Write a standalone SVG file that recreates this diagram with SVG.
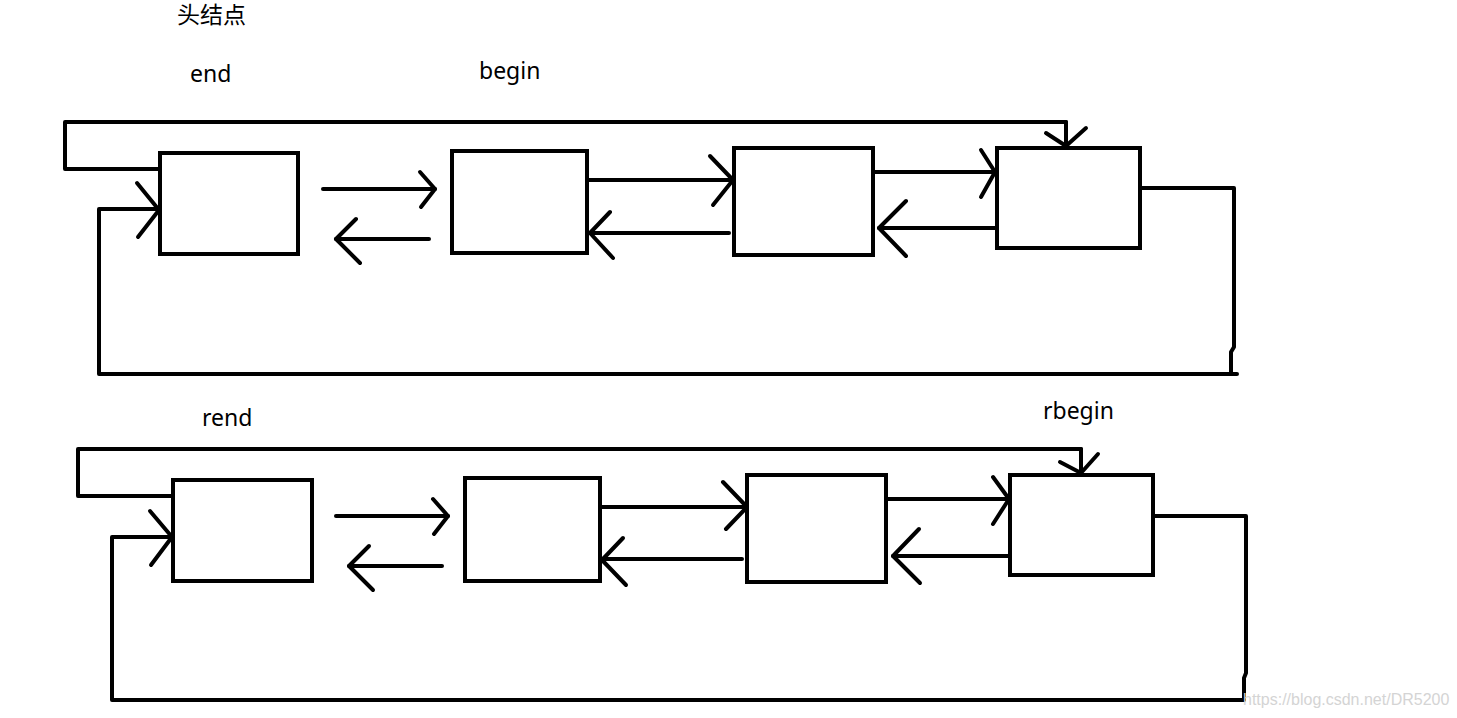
<svg xmlns="http://www.w3.org/2000/svg" width="1457" height="718" viewBox="0 0 1457 718">
<style>
.node{fill:#fff;stroke:#000;stroke-width:4}
.ln{fill:none;stroke:#000;stroke-width:4;stroke-linecap:round;stroke-linejoin:round}
.lbl{font-family:"Noto Sans","Noto Sans CJK SC",sans-serif;font-size:23px;fill:#000}
.wm{font-family:"Liberation Sans",Arial,sans-serif;font-size:16px;fill:#d4d4d4}
</style>
<rect width="1457" height="718" fill="#fff"/>
<g id="labels">
<text class="lbl" x="177" y="23" font-family="Noto Sans CJK SC,sans-serif" font-size="22">头结点</text>
<text class="lbl" x="190" y="82">end</text>
<text class="lbl" x="479" y="79">begin</text>
<text class="lbl" x="202" y="426">rend</text>
<text class="lbl" x="1043" y="419">rbegin</text>
</g>
<g id="connectors">
<!-- top list -->
<path class="ln" d="M1066,122 H65 V169 H160"/>
<polyline class="ln" points="1046,133 1066,146 1086,128"/>
<path class="ln" d="M1066,122 V144"/>
<path class="ln" d="M1140,188 H1234 V347 L1231,352 V374 H99 V209 H158"/>
<path class="ln" d="M1231,374 H1237"/>
<polyline class="ln" points="137,183 159,210 138,237"/>
<path class="ln" d="M323,189 H435"/>
<polyline class="ln" points="420,172 435,189 421,207"/>
<path class="ln" d="M429,239 H336"/>
<polyline class="ln" points="356,219 336,239 360,263"/>
<path class="ln" d="M587,180 H733"/>
<polyline class="ln" points="710,156 733,180 713,205"/>
<path class="ln" d="M729,233 H590"/>
<polyline class="ln" points="610,212 590,233 613,258"/>
<path class="ln" d="M873,172 H995"/>
<polyline class="ln" points="981,150 995,172 981,197"/>
<path class="ln" d="M997,228 H879"/>
<polyline class="ln" points="906,201 879,228 906,256"/>
<!-- bottom list -->
<path class="ln" d="M1081,449 H78 V496 H173"/>
<path class="ln" d="M1081,449 V471"/>
<polyline class="ln" points="1060,462 1081,473 1098,454"/>
<path class="ln" d="M1155,516 H1246 V673 L1244,678 V700 H112 V537 H171"/>
<polyline class="ln" points="150,511 172,537 151,565"/>
<path class="ln" d="M336,516 H448"/>
<polyline class="ln" points="433,499 448,516 434,534"/>
<path class="ln" d="M442,566 H349"/>
<polyline class="ln" points="369,546 349,566 373,590"/>
<path class="ln" d="M600,507 H747"/>
<polyline class="ln" points="723,482 747,507 726,529"/>
<path class="ln" d="M742,559 H602"/>
<polyline class="ln" points="623,538 602,560 626,585"/>
<path class="ln" d="M886,499 H1008"/>
<polyline class="ln" points="993,477 1009,499 993,524"/>
<path class="ln" d="M1010,556 H893"/>
<polyline class="ln" points="919,529 893,556 920,583"/>
</g>
<g id="t1"><rect class="node" x="160" y="153" width="138" height="101"/></g>
<g id="t2"><rect class="node" x="452" y="151" width="135" height="102"/></g>
<g id="t3"><rect class="node" x="734" y="148" width="139" height="107"/></g>
<g id="t4"><rect class="node" x="997" y="148" width="143" height="100"/></g>
<g id="b1"><rect class="node" x="173" y="480" width="139" height="101"/></g>
<g id="b2"><rect class="node" x="465" y="478" width="135" height="103"/></g>
<g id="b3"><rect class="node" x="747" y="475" width="139" height="107"/></g>
<g id="b4"><rect class="node" x="1010" y="475" width="143" height="100"/></g>
<text class="wm" x="1243" y="705">https://blog.csdn.net/DR5200</text>
</svg>
